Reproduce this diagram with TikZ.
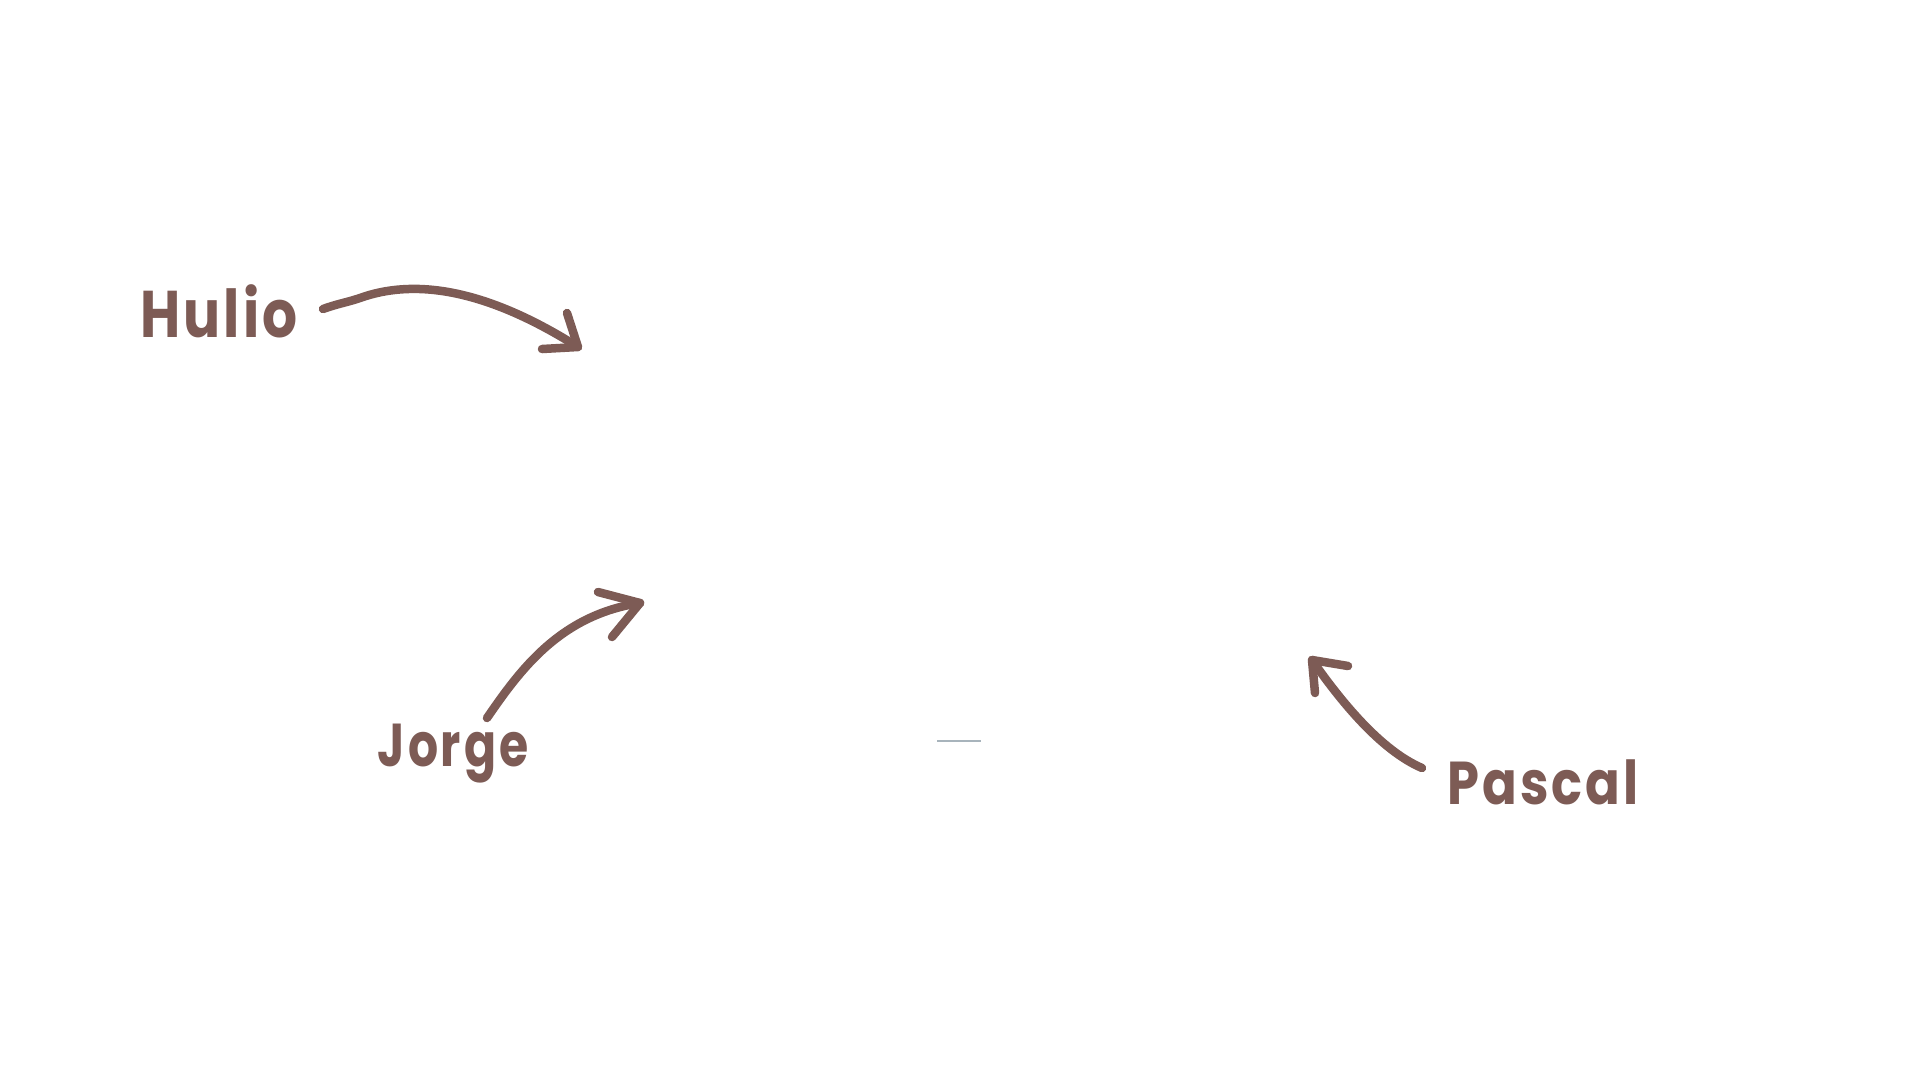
\documentclass[tikz,border=0pt]{standalone}
\usepackage{fontspec}
\newfontfamily\handfont[LetterSpace=6]{Poppins}
\definecolor{ink}{HTML}{7D5B55}
\definecolor{markgray}{HTML}{A8B4BC}
\begin{document}
\begin{tikzpicture}[x=1pt,y=-1pt,
  label/.style={text=ink,font=\handfont\fontsize{55}{55}\selectfont\bfseries,inner sep=0pt},
  stroke/.style={draw=ink,line width=8.5pt,line cap=round,line join=round}]
\useasboundingbox[fill=white] (0,0) rectangle (1920,1080);
% labels
\node[label,yscale=1.2] (hulio) at (219,311) {Hulio};
\node[label,xscale=0.86,yscale=1.1] (jorge) at (453,754) {Jorge};
\node[label,xscale=0.93,yscale=1.1] (pascal) at (1543,782) {Pascal};
% coordinates
\coordinate (h0) at (323,309);
\coordinate (h1) at (360,298);
\coordinate (ht) at (578,347);
\coordinate (hb1) at (567,313);
\coordinate (hb2) at (542,349);
\coordinate (j0) at (487,718);
\coordinate (jt) at (640,603);
\coordinate (jb1) at (598,592);
\coordinate (jb2) at (612,637);
\coordinate (p0) at (1422,768);
\coordinate (pt) at (1312,660);
\coordinate (pb1) at (1348,666);
\coordinate (pb2) at (1315,693);
\coordinate (m0) at (937,741);
\coordinate (m1) at (981,741);
% arrows
\draw[stroke] (h0) .. controls (340,303) and (345,303) .. (h1) .. controls (410,280) and (480,285) .. (ht);
\draw[stroke] (hb1) -- (ht) -- (hb2);
\draw[stroke] (j0) .. controls (520,670) and (560,615) .. (jt);
\draw[stroke] (jb1) -- (jt) -- (jb2);
\draw[stroke] (p0) .. controls (1380,750) and (1340,700) .. (pt);
\draw[stroke] (pb1) -- (pt) -- (pb2);
% small mark
\draw[markgray,line width=1.5pt] (m0) -- (m1);
\end{tikzpicture}
\end{document}
